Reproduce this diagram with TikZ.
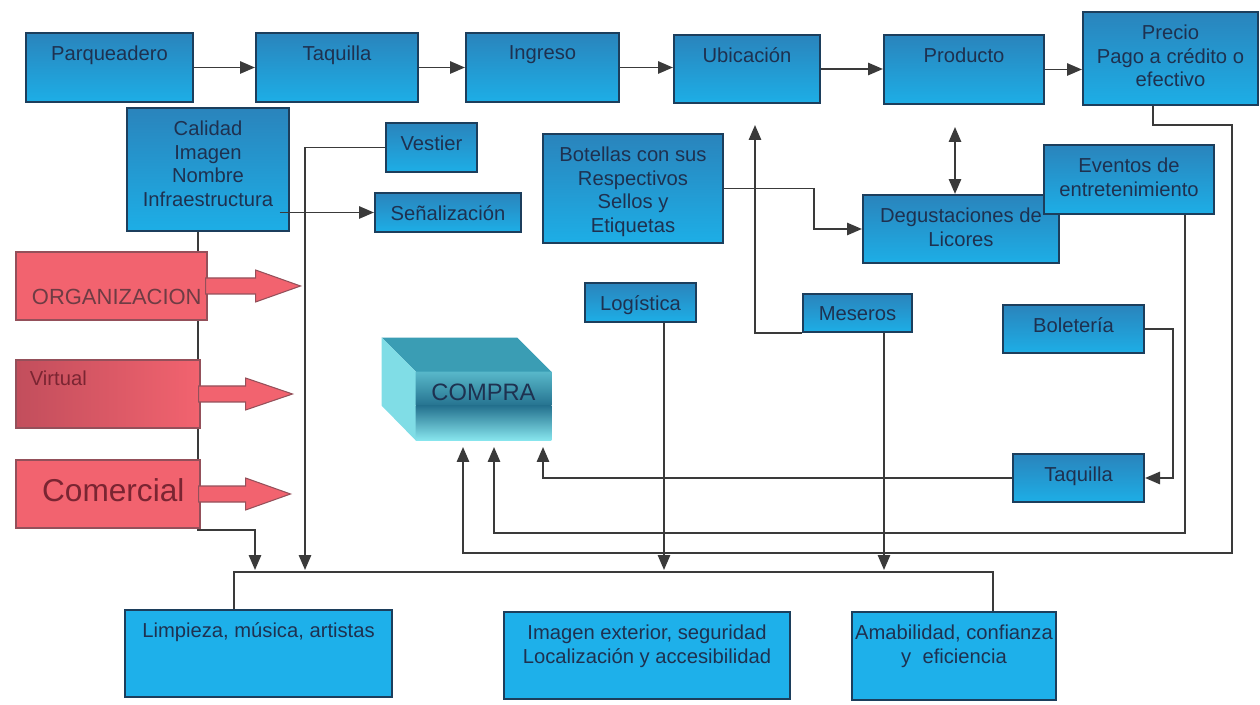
\documentclass[tikz,border=0pt]{standalone}
\usepackage{fontspec}
\setmainfont{Liberation Sans}
\usetikzlibrary{fit,arrows.meta}

\definecolor{boxtop}{HTML}{2A84BC}
\definecolor{boxbot}{HTML}{1DAEE6}
\definecolor{boxline}{HTML}{1C3E5C}
\definecolor{boxtext}{HTML}{1E3150}
\definecolor{lowbox}{HTML}{1EB0EA}
\definecolor{redbox}{HTML}{F2636F}
\definecolor{redlow}{HTML}{C24E5C}
\definecolor{redline}{HTML}{94505A}
\definecolor{redtext}{HTML}{7A2532}
\definecolor{orgtext}{HTML}{6E3C44}
\definecolor{cubetop}{HTML}{3A9DB4}
\definecolor{cubeside}{HTML}{80DDE6}
\definecolor{cubemid}{HTML}{25728F}
\definecolor{cubeA}{HTML}{58B8CA}
\definecolor{cubeB}{HTML}{88E6EE}
\definecolor{linegray}{HTML}{3A3A3A}

\begin{document}
\begin{tikzpicture}[x=0.02cm, y=-0.02cm,
	bx/.style={draw=boxline, line width=1.2pt, top color=boxtop, bottom color=boxbot, inner sep=0pt},
	lowbx/.style={draw=boxline, line width=1.2pt, fill=lowbox, inner sep=0pt},
	txt/.style={anchor=north, inner sep=0pt, yshift=-7.5pt, align=center, text=boxtext, font=\fontsize{11.5}{13.6}\selectfont},
	ttl/.style={label={[txt]north:#1}},
	redbx/.style={draw=redline, line width=0.6pt, fill=redbox, inner sep=0pt},
	redtxt/.style={anchor=north, inner sep=0pt, text=redtext},
	redarr/.style={draw=redline, line width=0.6pt, fill=redbox},
	ln/.style={draw=linegray, line width=1.1pt},
	arr/.style={ln, -{Triangle[length=8.5pt,width=7pt]}},
	dbl/.style={ln, {Triangle[length=8.5pt,width=7pt]}-{Triangle[length=8.5pt,width=7pt]}}
	]
	\useasboundingbox (0,0) rectangle (1260,705);

	% top row
	\node[bx, fit={(26,33)(193,102)}, ttl=Parqueadero] (parq) {};
	\node[bx, fit={(256,33)(418,102)}, ttl=Taquilla] (taq) {};
	\node[bx, fit={(466,33)(619,102)}, ttl=Ingreso] (ing) {};
	\node[bx, fit={(674,35)(820,103)}, ttl=Ubicación] (ubi) {};
	\node[bx, fit={(884,35)(1044,104)}, ttl=Producto] (prod) {};
	\node[bx, fit={(1083,12)(1258,105)}, ttl={Precio\\Pago a crédito o\\efectivo}] (prec) {};

	% middle boxes
	\node[bx, fit={(127,108)(289,231)}, ttl={Calidad\\Imagen\\Nombre\\Infraestructura}] (cal) {};
	\node[bx, fit={(386,123)(477,172)}, ttl=Vestier] (vest) {};
	\node[bx, fit={(375,193)(521,232)}, ttl=Señalización] (sen) {};
	\node[bx, fit={(543,134)(723,243)}, ttl={Botellas con sus\\Respectivos\\Sellos y\\Etiquetas}] (bot) {};
	\node[bx, fit={(863,195)(1059,263)}, ttl={Degustaciones de\\Licores}] (deg) {};
	\node[bx, fit={(1044,145)(1214,214)}, ttl={Eventos de\\entretenimiento}] (evt) {};
	\node[bx, fit={(585,283)(696,322)}, ttl=Logística] (log) {};
	\node[bx, fit={(803,294)(912,332)}, ttl=Meseros] (mes) {};
	\node[bx, fit={(1003,305)(1144,353)}, ttl=Boletería] (bol) {};
	\node[bx, fit={(1013,454)(1144,502)}, ttl=Taquilla] (taq2) {};

	% bottom row
	\node[lowbx, fit={(125,610)(392,697)}, ttl={Limpieza, música, artistas}] (limp) {};
	\node[lowbx, fit={(504,612)(790,699)}, ttl={Imagen exterior, seguridad\\Localización y accesibilidad}] (imag) {};
	\node[lowbx, fit={(852,612)(1056,700)}, ttl={Amabilidad, confianza\\y \ eficiencia}] (amab) {};

	% compra
	\node[fit={(416,372)(551,440)}, inner sep=0pt] (compra) {};
	\shade[top color=cubeA, bottom color=cubemid] (compra.north west) rectangle (compra.east);
	\shade[top color=cubemid, bottom color=cubeB] (compra.west) rectangle (compra.south east);
	\fill[cubetop] (compra.north west) -- (compra.north east) -- ++(-34,-34) -- ([shift={(-34,-34)}]compra.north west) -- cycle;
	\fill[cubeside] (compra.north west) -- ++(-34,-34) -- ++(0,68) -- (compra.south west) -- cycle;
	\node[anchor=north, inner sep=0pt, yshift=-7pt, text=boxtext, font=\fontsize{13.5}{15}\selectfont] (compraT) at (compra.north) {COMPRA};

	\coordinate (k1) at (198,530);
	\coordinate (b1) at (255,570);
	\coordinate (b2) at (305,570);
	\coordinate (b3) at (664,570);
	\coordinate (b4) at (884,570);
	\coordinate (busL) at (234,572);
	\coordinate (busR) at (993,572);
	\coordinate (u1) at (755,125);
	\coordinate (p1) at (955,127);
	\coordinate (d1) at (814,210);
	\coordinate (r1) at (1153,125);
	\coordinate (r2) at (1232,553);
	\coordinate (e1) at (1185,533);
	\coordinate (q1) at (1173,400);
	\coordinate (c1) at (463,447);
	\coordinate (c2) at (494,447);
	\coordinate (c3) at (543,447);

	% connectors
	\foreach \a/\b in {parq/taq, taq/ing, ing/ubi, ubi/prod, prod/prec}
		\draw[arr] (\a.east) -- (\a.east -| \b.west);
	\draw[arr] ([xshift=-6pt]cal.east |- sen.west) -- (sen.west);
	\draw[arr] (cal.south -| k1) -- (k1) -| (b1);
	\draw[arr] (vest.west) -| (b2);
	\draw[ln] (limp.north -| busL) -- (busL) -- (busR) -- (amab.north -| busR);
	\draw[arr] (log.south -| b3) -- (b3);
	\draw[arr] (mes.south -| b4) -- (b4);
	\draw[arr] (mes.south west) -| (u1);
	\draw[dbl] (p1) -- (deg.north -| p1);
	\draw[arr] (bot.east) -| (d1) |- (deg.west);
	\draw[arr] (prec.south -| r1) -- (r1) -| (r2) -| (c1);
	\draw[arr] (evt.south -| e1) -- (e1) -| (c2);
	\draw[arr] (taq2.west) -| (c3);
	\draw[arr] (bol.east) -| (q1) |- (taq2.east);

	% red boxes
	\node[redbx, fit={(16,252)(207,320)},
		label={[redtxt, text=orgtext, xshift=3pt, yshift=-21pt, font=\fontsize{12.5}{14}\selectfont]north:ORGANIZACION}] (org) {};
	\node[redbx, fit={(16,360)(200,428)}, left color=redlow, right color=redbox,
		label={[redtxt, anchor=north west, xshift=8pt, yshift=-6pt, font=\fontsize{11.5}{13}\selectfont]north west:Virtual}] (virt) {};
	\node[redbx, fit={(16,460)(200,528)},
		label={[redtxt, xshift=3pt, yshift=-10.5pt, font=\fontsize{18}{20}\selectfont]north:Comercial}] (com) {};
	\foreach \b/\s/\h in {org/48/45, virt/45/47, com/45/45}
		\filldraw[redarr] (\b.east) ++(-2,-8) -- ++(\s+2,0) -- ++(0,-8) -- ++(\h,16) -- ++(-\h,16) -- ++(0,-8) -- ++(-\s-2,0) -- cycle;
\end{tikzpicture}
\end{document}
